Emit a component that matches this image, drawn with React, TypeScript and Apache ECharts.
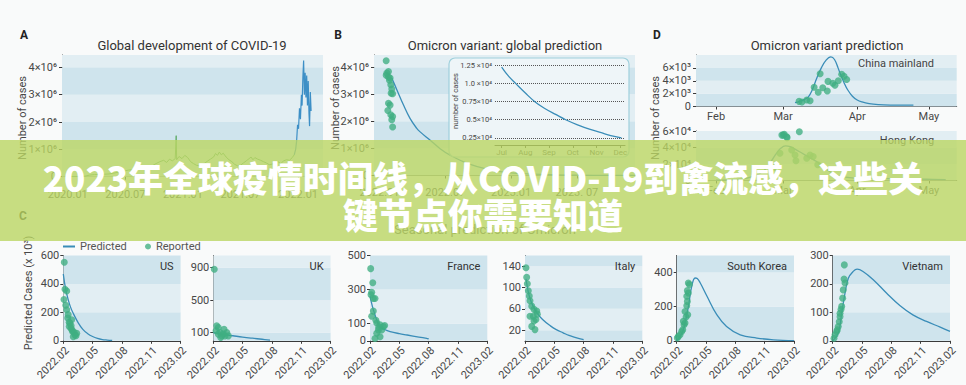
import React, { useEffect, useRef } from "react";
import * as echarts from "echarts";

const W = 966;
const H = 385;
const FONT = "Roboto, 'Noto Sans', 'DejaVu Sans', sans-serif";
const CJK = "'Noto Sans CJK SC', 'Noto Sans', sans-serif";
const TEXT = "#474747";
const AXIS = "#3a3a3a";
const BAND_DARK = "#cfe4ed";
const BAND_LIGHT = "#e2eef3";
const DOT = "#3fae82";
const PRED = "#3a8db8";
const A_GREEN = "#62ad6c";
const A_BLUE = "#3d8fc6";

// ---------- Panel A: global development (months since 2020.01, cases x10^6) ----------
const A_XTICKS = [0, 6, 12, 18, 24];
const A_XLABELS = ["2020.01", "2020.07", "2021.01", "2021.07", "2022.01"];
const A_YTICKS = [0, 1, 2, 3, 4];
const A_YLABELS = ["0", "1×10⁶", "2×10⁶", "3×10⁶", "4×10⁶"];
const A_EARLY: [number, number][] = [
  [0, 0], [1, 0.002], [1.8, 0.02], [2.3, 0.06], [2.8, 0.08], [3.3, 0.08], [3.8, 0.09], [4.3, 0.1],
  [4.8, 0.13], [5.3, 0.17], [5.8, 0.2], [6.3, 0.24], [6.8, 0.26], [7.3, 0.27], [7.8, 0.29], [8.3, 0.32],
  [8.8, 0.4], [9.2, 0.48], [9.6, 0.55], [10, 0.6], [10.3, 0.52], [10.6, 0.64], [10.9, 0.58], [11.2, 0.66],
  [11.3, 1.5], [11.35, 0.62], [11.6, 0.74], [11.9, 0.66], [12.2, 0.78], [12.5, 0.7], [12.8, 0.55],
  [13.1, 0.48], [13.4, 0.42], [13.7, 0.4], [14, 0.45], [14.3, 0.5], [14.6, 0.58], [14.9, 0.65],
  [15.2, 0.72], [15.4, 0.85], [15.6, 0.78], [15.8, 0.9], [16, 0.8], [16.2, 0.86], [16.5, 0.72],
  [16.8, 0.62], [17.1, 0.55], [17.4, 0.45], [17.7, 0.4], [18, 0.42], [18.3, 0.5], [18.6, 0.58],
  [18.9, 0.66], [19.1, 0.72], [19.3, 0.62], [19.5, 0.7], [19.8, 0.64], [20.1, 0.6], [20.4, 0.55],
  [20.7, 0.5], [21, 0.44], [21.3, 0.46], [21.6, 0.5], [21.9, 0.55], [22.2, 0.48], [22.5, 0.58],
  [22.8, 0.62], [23.1, 0.6], [23.4, 0.7], [23.6, 0.8],
];
const A_OMICRON: [number, number][] = [
  [23.6, 0.8], [23.75, 1.0], [23.85, 1.3], [23.95, 1.9], [24.05, 1.75], [24.15, 2.5], [24.25, 2.1],
  [24.35, 3.0], [24.42, 2.6], [24.5, 3.6], [24.58, 4.25], [24.66, 3.0], [24.74, 3.8], [24.82, 2.9],
  [24.9, 3.7], [24.98, 2.6], [25.06, 3.5], [25.14, 2.3], [25.2, 1.85], [25.28, 3.1], [25.36, 2.4],
];

// ---------- Panel B: global prediction (months since 2022.01, cases x10^6) ----------
const B_XTICKS = [0, 6, 12, 18];
const B_XLABELS = ["2022.01", "2022.07", "2023.01", "2023. 07"];
const B_YTICKS = [0, 1, 2, 3, 4];
const B_YLABELS = ["0", "1×10⁶", "2×10⁶", "3×10⁶", "4×10⁶"];
const B_REPORTED: [number, number][] = [
  [0.61, 4.24], [0.67, 3.78], [0.82, 3.84], [0.61, 3.7], [0.82, 3.64], [0.97, 3.6], [0.91, 3.52],
  [1.03, 3.35], [1.12, 3.19], [1.06, 3.04], [1.2, 3.02], [0.82, 2.67], [0.97, 2.6], [0.76, 2.4],
  [1.03, 2.24], [1.2, 2.18], [1.12, 2.06], [1.2, 1.79],
];
const B_PREDICTED: [number, number][] = [
  [1.12, 3.6], [1.58, 3.17], [2.18, 2.61], [2.77, 2.12], [3.38, 1.75], [3.68, 1.62], [4.6, 1.31],
  [5.5, 1.0], [6.4, 0.76], [8, 0.45], [10, 0.22], [12, 0.1], [14, 0.05], [16, 0.025], [18, 0.012],
  [21, 0.005], [23.3, 0.0025],
];
// inset (month of year, cases x10^4)
const INSET_XTICKS = [7, 8, 9, 10, 11, 12];
const INSET_XLABELS = ["Jul", "Aug", "Sep", "Oct", "Nov", "Dec"];
const INSET_YTICKS = [0.25, 0.5, 0.75, 1.0, 1.25];
const INSET_YLABELS = ["0.25×10⁴", "0.5×10⁴", "0.75×10⁴", "1.0 ×10⁴", "1.25 ×10⁴"];
const INSET_PRED: [number, number][] = [
  [7, 1.23], [7.3, 1.1], [7.6, 1.0], [8.0, 0.87], [8.4, 0.75], [8.8, 0.66], [9.3, 0.57], [9.7, 0.5],
  [10.2, 0.43], [10.7, 0.37], [11.2, 0.32], [11.6, 0.28], [12.05, 0.25],
];

// ---------- Panel D: China mainland / Hong Kong (day of year) ----------
const D_XTICKS = [32, 60, 91, 121];
const D_XLABELS = ["Feb", "Mar", "Apr", "May"];
const D1_YTICKS = [0, 2, 4, 6];
const D1_YLABELS = ["0", "2×10³", "4×10³", "6×10³"];
const D2_YTICKS = [0, 2, 4, 6];
const D2_YLABELS = ["0", "2×10⁴", "4×10⁴", "6×10⁴"];
const CN_REPORTED: [number, number][] = [
  [66.7, 0.8], [67.9, 0.7], [69.9, 1.0], [71.3, 0.9], [73, 3.0], [74.7, 2.2], [75.5, 5.1], [76.6, 2.9],
  [78.5, 2.4], [78.8, 3.9], [80.8, 3.6], [81.7, 3.3], [83.1, 4.0], [84.5, 5.0], [85.5, 4.7], [86.6, 4.2],
];
const CN_PREDICTED: [number, number][] = [
  [65, 0.6], [67, 0.8], [69, 1.1], [70.6, 1.5], [72, 2.4], [74, 4.3], [76, 6.0], [78, 7.2], [80, 7.7],
  [81.5, 7.3], [83, 6.0], [84, 5.0], [85.5, 3.7], [87, 2.6], [89, 1.6], [91, 1.0], [93, 0.7],
  [96, 0.45], [100, 0.3], [105, 0.22], [110, 0.2], [114.5, 0.2],
];
const HK_REPORTED: [number, number][] = [
  [58.7, 3.3], [59.5, 5.5], [60.1, 5.5], [60.5, 5.6], [61.5, 5.3], [61.7, 5.2], [63.6, 3.7], [65, 3.1],
  [65.4, 2.4], [66.8, 5.9], [69.9, 2.7], [71.3, 3.1], [72.6, 2.9], [56.5, 1.6], [74.5, 1.9],
];
const HK_PREDICTED: [number, number][] = [
  [32, 0.05], [40, 0.1], [45, 0.3], [50, 0.8], [53, 1.5], [55, 2.3], [57, 3.2], [59, 3.9], [61, 4.2],
  [63, 4.1], [65, 3.8], [68, 3.3], [71, 2.8], [74, 2.3], [77, 1.6], [80, 1.0], [83, 0.6], [86, 0.4],
  [90, 0.3], [100, 0.25], [110, 0.2], [120, 0.15], [128, 0.1],
];

// ---------- Panel C: seasonal prediction (months since 2022.02, cases x10^3) ----------
const C_XTICKS = [0, 3, 6, 9, 12];
const C_XLABELS = ["2022.02", "2022.05", "2022.08", "2022.11", "2023.02"];
const C_NAMES = ["US", "UK", "France", "Italy", "South Korea", "Vietnam"];
const C_YMAX = [600, 1050, 500, 160, 500, 300];
const C_YTICKS = [
  [0, 200, 400, 600],
  [0, 100, 500, 900],
  [0, 100, 300, 500],
  [0, 20, 60, 100, 140],
  [0, 200, 400],
  [0, 100, 200, 300],
];
const US_REPORTED: [number, number][] = [
  [0.1, 553], [0.17, 362], [0.35, 350], [0.07, 291], [0.35, 219], [0.5, 184], [0.68, 124], [0.78, 89],
  [0.96, 64], [1.19, 41], [1.02, 29], [1.37, 53], [0.61, 100], [0.86, 148], [0.25, 250], [0.45, 160],
  [0.9, 75], [1.1, 60], [1.3, 35], [0.6, 130], [0.8, 105],
];
const US_PREDICTED: [number, number][] = [
  [0, 470], [0.25, 360], [0.5, 290], [0.75, 235], [1, 195], [1.5, 130], [2, 80], [2.5, 50], [3, 30],
  [3.5, 17], [4, 9], [4.5, 5], [5, 2],
];
const UK_REPORTED: [number, number][] = [
  [0.1, 880], [0.35, 184], [0.51, 163], [0.69, 102], [1.03, 82], [1.2, 61], [1.38, 102], [0.86, 61],
  [0.51, 82], [0.28, 123], [1.54, 61], [1.1, 143], [0.76, 40],
];
const UK_PREDICTED: [number, number][] = [
  [0, 100], [0.5, 90], [1, 80], [1.5, 70], [2, 62], [3, 46], [4, 32], [5, 19], [5.8, 9],
];
const FR_REPORTED: [number, number][] = [
  [0.07, 423], [0.28, 340], [0.17, 284], [0.51, 248], [0.34, 174], [0.17, 144], [0.69, 104], [1.03, 94],
  [0.86, 64], [1.2, 64], [0.69, 44], [1.03, 24], [0.51, 14], [1.37, 84], [0.34, 248], [0.1, 270],
  [0.6, 120], [1.5, 90], [0.9, 80],
];
const FR_PREDICTED: [number, number][] = [
  [0, 263], [0.25, 200], [0.5, 154], [0.75, 112], [1.0, 84], [1.5, 66], [2.06, 54], [3, 42], [3.8, 34],
  [5, 22], [5.8, 14], [6, 12],
];
const IT_REPORTED: [number, number][] = [
  [0.1, 137], [0.17, 119], [0.24, 107], [0.34, 94], [0.44, 84], [0.51, 75], [0.69, 65], [0.92, 59],
  [1.2, 56], [0.85, 46], [1.12, 40], [1.26, 50], [0.51, 46], [0.69, 27], [1.02, 21], [0.92, 37],
];
const IT_PREDICTED: [number, number][] = [
  [0.1, 116], [0.3, 95], [0.5, 80], [0.8, 66], [1.2, 53], [1.8, 40], [2.6, 28], [3.2, 21], [3.9, 15],
  [4.5, 10], [5.2, 6], [6.0, 2],
];
const KR_REPORTED: [number, number][] = [
  [0.06, 16], [0.16, 25], [0.34, 35], [0.51, 55], [0.62, 65], [0.75, 94], [0.85, 104], [0.68, 114],
  [0.85, 172], [0.96, 139], [1.03, 206], [1.09, 231], [1.03, 261], [1.19, 280], [1.19, 339], [1.3, 330],
  [1.09, 294], [1.13, 153],
];
const KR_PREDICTED: [number, number][] = [
  [0, 0], [0.3, 20], [0.68, 65], [0.95, 130], [1.2, 202], [1.54, 320], [1.88, 368], [2.1, 365],
  [2.4, 340], [3.1, 261], [4.1, 153], [5.1, 84], [6.5, 35], [8.2, 16], [9.9, 6], [12, 1],
];
const VN_REPORTED: [number, number][] = [
  [1.19, 267], [1.16, 217], [1.26, 203], [1.08, 179], [1.02, 150], [0.92, 121], [0.85, 110], [0.75, 85],
  [0.67, 67], [0.57, 50], [0.41, 33], [0.24, 21], [0.13, 9], [0.47, 39], [0.75, 97],
];
const VN_PREDICTED: [number, number][] = [
  [0, 0], [0.57, 27], [0.92, 97], [1.26, 168], [1.6, 220], [2.1, 244], [2.5, 252], [3.1, 244],
  [4.15, 215], [5.5, 168], [6.9, 123], [8.2, 91], [9.6, 68], [11, 48], [12, 33],
];
const C_REPORTED = [US_REPORTED, UK_REPORTED, FR_REPORTED, IT_REPORTED, KR_REPORTED, VN_REPORTED];
const C_PREDICTED = [US_PREDICTED, UK_PREDICTED, FR_PREDICTED, IT_PREDICTED, KR_PREDICTED, VN_PREDICTED];

const BANNER_LINES = ["2023年全球疫情时间线，从COVID-19到禽流感，这些关", "键节点你需要知道"];

// ---------- layout (pixels) ----------
const C_LEFT = [63.3, 213.3, 370, 525, 676.7, 832.7];
const C_WIDTH = 117.3;
const C_TOP = 255.5;
const C_HEIGHT = 85.3;

function fmt(ticks: number[], labels: string[]) {
  return (v: number) => {
    const i = ticks.findIndex((t) => Math.abs(t - v) < 1e-6);
    return i >= 0 ? labels[i] : "";
  };
}

function axis(gridIndex: number, min: number, max: number, ticks: number[], labels: string[], o: any = {}) {
  const label: any = {
    customValues: ticks,
    formatter: fmt(ticks, labels),
    color: TEXT,
    fontSize: o.fs ?? 11,
    fontFamily: FONT,
    margin: o.margin ?? 4,
    rotate: o.rotate ?? 0,
  };
  if (o.align) label.align = o.align;
  if (o.valign) label.verticalAlign = o.valign;
  return {
    type: "value",
    gridIndex,
    min,
    max,
    z: o.z ?? 0,
    axisLine: { show: o.line ?? true, onZero: false, lineStyle: { color: AXIS, width: 1 } },
    axisTick: { show: o.tick ?? true, length: 3, customValues: ticks, lineStyle: { color: AXIS } },
    axisLabel: label,
    splitLine: { show: false },
    splitArea: { show: false },
  };
}

function bands(ticks: number[], max: number, startDark: boolean) {
  const edges = [...ticks.filter((t) => t < max), max];
  const out: any[] = [];
  for (let i = 0; i < edges.length - 1; i++) {
    const dark = (i % 2 === 0) === startDark;
    out.push([{ yAxis: edges[i], itemStyle: { color: dark ? BAND_DARK : BAND_LIGHT } }, { yAxis: edges[i + 1] }]);
  }
  return { silent: true, label: { show: false }, data: out };
}

function line(name: string, idx: number, data: [number, number][], color: string, extra: any = {}) {
  return {
    type: "line",
    name,
    xAxisIndex: idx,
    yAxisIndex: idx,
    data,
    symbol: "none",
    showSymbol: false,
    lineStyle: { color, width: 1.3 },
    itemStyle: { color },
    silent: true,
    z: 3,
    ...extra,
  };
}

function dots(name: string, idx: number, data: [number, number][], extra: any = {}) {
  return {
    type: "scatter",
    name,
    xAxisIndex: idx,
    yAxisIndex: idx,
    data,
    symbolSize: 7,
    itemStyle: { color: DOT, opacity: 0.78 },
    silent: true,
    z: 4,
    ...extra,
  };
}

function txt(text: string, x: number, y: number, s: any = {}, extra: any = {}) {
  return {
    type: "text",
    x,
    y,
    z: 20,
    silent: true,
    ...extra,
    style: {
      text,
      fill: s.fill ?? TEXT,
      fontSize: s.fontSize ?? 11,
      fontWeight: s.fontWeight ?? "normal",
      fontFamily: s.fontFamily ?? FONT,
      align: s.align ?? "center",
      verticalAlign: "middle",
    },
  };
}

function buildOption() {
  const grids: any[] = [
    { left: 62, top: 55, width: 261, height: 121.7 }, // A
    { left: 374, top: 55, width: 261, height: 120.5 }, // B
    { left: 495, top: 62, width: 130, height: 83 }, // B inset
    { left: 696, top: 55, width: 260.7, height: 51.5 }, // D top
    { left: 696, top: 131, width: 260.7, height: 49.5 }, // D bottom
    ...C_LEFT.map((l) => ({ left: l, top: C_TOP, width: C_WIDTH, height: C_HEIGHT })),
  ].map((g) => ({ ...g, outerBoundsMode: "none", containLabel: false }));

  const xAxis: any[] = [
    axis(0, -0.6, 26.6, A_XTICKS, A_XLABELS, { margin: 12 }),
    axis(1, -0.5, 23.3, B_XTICKS, B_XLABELS, { margin: 11 }),
    axis(2, 6.72, 12.2, INSET_XTICKS, INSET_XLABELS, { fs: 8, margin: 3, z: 10 }),
    axis(3, 23.6, 132.6, D_XTICKS, D_XLABELS, { margin: 4 }),
    axis(4, 23.6, 132.6, D_XTICKS, D_XLABELS, { margin: 4 }),
    ...C_LEFT.map((_, i) =>
      axis(5 + i, 0, 12, C_XTICKS, C_XLABELS, { rotate: 45, fs: 11, margin: 4, align: "right", valign: "top" })
    ),
  ];
  const yAxis: any[] = [
    axis(0, 0, 4.45, A_YTICKS, A_YLABELS, { margin: 5 }),
    axis(1, 0, 4.45, B_YTICKS, B_YLABELS, { margin: 5 }),
    axis(2, 0.15, 1.3, INSET_YTICKS, INSET_YLABELS, { fs: 7.5, margin: 3, z: 10, line: false, tick: false }),
    axis(3, 0, 8, D1_YTICKS, D1_YLABELS, { margin: 5 }),
    axis(4, 0, 6, D2_YTICKS, D2_YLABELS, { margin: 5 }),
    ...C_LEFT.map((_, i) =>
      axis(5 + i, 0, C_YMAX[i], C_YTICKS[i], C_YTICKS[i].map(String), { margin: 4 })
    ),
  ];

  const series: any[] = [
    line("Early waves", 0, A_EARLY, A_GREEN, { lineStyle: { color: A_GREEN, width: 1 }, markArea: bands(A_YTICKS, 4.45, false) }),
    line("Omicron wave", 0, A_OMICRON, A_BLUE, { lineStyle: { color: A_BLUE, width: 1.2 } }),
    line("Global predicted", 1, B_PREDICTED, PRED, { smooth: 0.4, markArea: bands(B_YTICKS, 4.45, false) }),
    dots("Global reported", 1, B_REPORTED, { symbolSize: 7 }),
    line("Inset predicted", 2, INSET_PRED, PRED, {
      smooth: 0.4,
      z: 12,
      markLine: {
        silent: true,
        symbol: "none",
        label: { show: false },
        lineStyle: { type: "dotted", color: "#555", width: 1 },
        data: INSET_YTICKS.map((v) => ({ yAxis: v })),
      },
    }),
    line("China predicted", 3, CN_PREDICTED, PRED, { smooth: 0.4, markArea: bands(D1_YTICKS, 8, true) }),
    dots("China reported", 3, CN_REPORTED),
    line("HK predicted", 4, HK_PREDICTED, PRED, { smooth: 0.4, markArea: bands(D2_YTICKS, 6, false) }),
    dots("HK reported", 4, HK_REPORTED),
  ];
  C_LEFT.forEach((_, i) => {
    series.push(
      line("Predicted", 5 + i, C_PREDICTED[i], PRED, { smooth: 0.4, markArea: bands(C_YTICKS[i], C_YMAX[i], true) })
    );
    series.push(dots("Reported", 5 + i, C_REPORTED[i]));
  });

  const elements: any[] = [
    // panel letters
    txt("A", 24, 35, { fontWeight: "bold", fill: "#222", fontSize: 12 }),
    txt("B", 338, 35, { fontWeight: "bold", fill: "#222", fontSize: 12 }),
    txt("D", 657, 35, { fontWeight: "bold", fill: "#222", fontSize: 12 }),
    txt("C", 23, 216, { fontWeight: "bold", fill: "#222", fontSize: 12 }),
    // titles
    txt("Global development of COVID-19", 192, 45, { fontSize: 13, fill: "#333" }),
    txt("Omicron variant: global prediction", 505, 45, { fontSize: 13, fill: "#333" }),
    txt("Omicron variant prediction", 827, 45, { fontSize: 13, fill: "#333" }),
    txt("Seasonal prediction of Omicron", 485, 229, { fontSize: 13, fill: "#555" }),
    // axis names
    txt("Number of cases", 22, 118, { fontSize: 11 }, { rotation: Math.PI / 2 }),
    txt("Number of cases", 335, 108, { fontSize: 11 }, { rotation: Math.PI / 2 }),
    txt("Number of cases", 655, 118, { fontSize: 11 }, { rotation: Math.PI / 2 }),
    txt("Predicted Cases (x 10³)", 28, 293, { fontSize: 11 }, { rotation: Math.PI / 2 }),
    // panel D labels
    txt("China mainland", 896, 63, { fontSize: 11, fill: "#444" }),
    txt("Hong Kong", 907, 140, { fontSize: 11, fill: "#444" }),
    // inset box
    {
      type: "rect",
      z: 5,
      silent: true,
      shape: { x: 449, y: 58, width: 180, height: 99, r: 6 },
      style: { fill: "#eef5f8", stroke: "#9fd0dc", lineWidth: 1.2 },
    },
    txt("number of cases", 455, 101, { fontSize: 7.5 }, { rotation: Math.PI / 2, z: 11 }),
    // country labels
    ...C_NAMES.map((n, i) => txt(n, C_LEFT[i] + C_WIDTH - 7, 266, { align: "right", fill: "#333" })),
    // banner
    {
      type: "rect",
      z: 100,
      silent: true,
      shape: { x: 0, y: 140, width: W, height: 101 },
      style: { fill: "rgba(186,214,99,0.8)" },
    },
    ...BANNER_LINES.map((t, i) =>
      txt(t, 483, 176 + i * 37, { fontSize: 35, fontWeight: 900, fill: "#ffffff", fontFamily: CJK }, { z: 101 })
    ),
  ];

  return {
    animation: false,
    backgroundColor: "#f9fafa",
    grid: grids,
    xAxis,
    yAxis,
    series,
    legend: [
      {
        data: ["Predicted"],
        left: 58,
        top: 236,
        icon: "rect",
        itemWidth: 12,
        itemHeight: 2,
        itemGap: 6,
        selectedMode: false,
        textStyle: { color: "#555", fontSize: 11, fontFamily: FONT },
      },
      {
        data: ["Reported"],
        left: 140,
        top: 236,
        icon: "circle",
        itemWidth: 6,
        itemHeight: 6,
        selectedMode: false,
        textStyle: { color: "#555", fontSize: 11, fontFamily: FONT },
      },
    ],
    graphic: { elements },
  };
}

export default function App() {
  const ref = useRef<HTMLDivElement>(null);
  useEffect(() => {
    if (!ref.current) return;
    const chart = echarts.init(ref.current, null, { renderer: "svg", width: W, height: H });
    chart.setOption(buildOption() as any);
    return () => chart.dispose();
  }, []);
  return (
    <div style={{ position: "fixed", left: 0, top: 0, width: W, height: H, background: "#f9fafa" }}>
      <div ref={ref} style={{ width: W, height: H }} />
    </div>
  );
}
